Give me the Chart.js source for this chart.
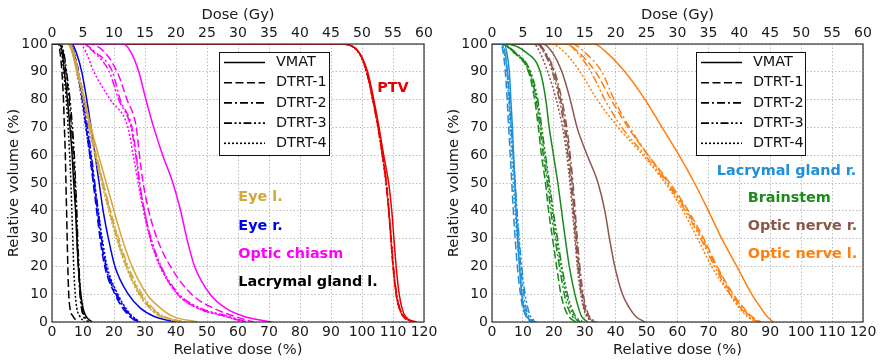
<!DOCTYPE html>
<html>
<head>
<meta charset="utf-8">
<script src="https://cdn.jsdelivr.net/npm/chart.js@4.4.1/dist/chart.umd.min.js"></script>
<style>
  html, body { margin: 0; padding: 0; background: #fff; }
  #wrap { position: relative; width: 881px; height: 360px; }
  canvas { position: absolute; top: 0; }
  #leftChart { left: 0; }
  #rightChart { left: 440px; }
</style>
</head>
<body>
<div id="wrap">
  <canvas id="leftChart" width="440" height="360"></canvas>
  <canvas id="rightChart" width="441" height="360"></canvas>
</div>
<script>
const volumeLevels = [100, 97, 90, 80, 70, 60, 50, 40, 30, 20, 10, 5, 2, 0];
const planNames = ['VMAT', 'DTRT-1', 'DTRT-2', 'DTRT-3', 'DTRT-4'];

// left panel, rows = VMAT, DTRT-1 .. DTRT-4
const lacrymalLDose = [
  [2.5, 3.3, 4.0, 5.0, 5.8, 6.5, 7.0, 7.6, 8.0, 8.5, 9.3, 10.0, 11.0, 13.0],
  [2.0, 2.6, 3.2, 3.7, 4.0, 4.3, 4.5, 4.7, 4.9, 5.1, 5.4, 5.8, 6.8, 8.5],
  [2.8, 3.6, 4.5, 5.5, 6.3, 6.9, 7.4, 7.8, 8.1, 8.5, 9.0, 9.5, 10.2, 11.5],
  [2.8, 3.8, 4.7, 5.8, 6.6, 7.2, 7.6, 8.0, 8.3, 8.7, 9.2, 9.7, 10.5, 12.0],
  [2.4, 3.1, 3.8, 4.6, 5.2, 5.7, 6.1, 6.4, 6.7, 7.0, 7.5, 8.0, 9.0, 10.5]
];
const eyeRDose = [
  [6.5, 7.8, 9.6, 11.2, 12.6, 13.9, 15.2, 16.5, 18.2, 20.3, 24.6, 28.5, 33, 40],
  [5.5, 6.8, 8.2, 9.8, 11.0, 12.2, 13.3, 14.4, 15.5, 17.0, 20.3, 22.8, 25, 27.5],
  [5.5, 7.0, 8.4, 10.0, 11.3, 12.5, 13.6, 14.7, 15.8, 17.3, 20.6, 23.2, 25.5, 28],
  [5.8, 7.2, 8.6, 10.2, 11.5, 12.7, 13.8, 14.9, 16.0, 17.5, 21.0, 23.5, 25.8, 28],
  [5.3, 6.6, 8.0, 9.6, 10.9, 12.2, 13.5, 14.9, 16.2, 17.8, 21.2, 23.8, 26, 28.5]
];
const eyeLDose = [
  [5.0, 6.5, 8.0, 10.5, 12.6, 15.0, 17.5, 20.0, 22.6, 25.8, 30.6, 35, 39, 47],
  [5.5, 7.0, 8.5, 10.5, 12.3, 14.3, 16.5, 18.8, 21.2, 24.2, 28.5, 32, 36, 43],
  [5.5, 6.8, 8.3, 10.3, 12.0, 14.0, 16.2, 18.5, 21.0, 24.0, 28.2, 31.5, 35, 42],
  [5.8, 7.0, 8.5, 10.5, 12.3, 14.3, 16.5, 18.8, 21.5, 24.6, 29.0, 32.5, 36, 43],
  [5.3, 6.5, 8.0, 10.0, 11.8, 13.8, 16.0, 18.3, 20.8, 23.8, 28.0, 31.5, 35, 42]
];
const chiasmDose = [
  [23, 25.5, 28, 30.3, 32.8, 35.7, 39, 41.5, 43.5, 46, 51, 56, 62, 71],
  [12, 17, 21.0, 24.2, 27.2, 28.2, 29.4, 31.2, 33.9, 38.2, 45, 52, 59, 65],
  [10, 14, 19.5, 22.0, 25.8, 27.2, 28.3, 29.8, 31.8, 35.0, 40.5, 47, 56, 62],
  [10, 13.5, 18.5, 21.5, 25.5, 27.0, 28.2, 29.8, 32.0, 35.2, 41, 48, 57, 63],
  [9, 11, 13.5, 18.8, 24.5, 26.2, 27.8, 29.5, 31.6, 34.8, 40.5, 47, 56, 62]
];
const ptvDose = [
  [93, 99, 101.8, 103.8, 105.5, 107.0, 108.6, 109.6, 110.3, 111.0, 112.0, 112.9, 114.0, 117.5],
  [93, 99, 101.5, 103.5, 105.2, 106.6, 107.8, 108.6, 109.3, 110.0, 111.0, 112.0, 113.3, 116.5],
  [93, 99, 101.6, 103.6, 105.3, 106.7, 107.9, 108.7, 109.4, 110.1, 111.1, 112.1, 113.5, 116.5],
  [93, 99, 101.5, 103.5, 105.2, 106.6, 107.8, 108.7, 109.4, 110.1, 111.2, 112.2, 113.5, 116.5],
  [93, 98.8, 101.4, 103.4, 105.1, 106.5, 107.7, 108.6, 109.3, 110.0, 111.0, 112.0, 113.3, 116.5]
];

// right panel
const lacrymalRDose = [
  [3.8, 4.8, 5.6, 6.1, 6.6, 7.0, 7.4, 7.8, 8.3, 8.9, 9.6, 10.3, 11.2, 13.5],
  [2.8, 3.6, 4.3, 4.9, 5.4, 5.9, 6.4, 6.9, 7.5, 8.2, 9.2, 10.0, 11.0, 12.5],
  [3.2, 4.2, 5.0, 5.6, 6.2, 6.8, 7.4, 8.0, 8.6, 9.3, 10.3, 11.0, 12.0, 14.0],
  [3.2, 4.2, 5.0, 5.7, 6.3, 6.9, 7.5, 8.1, 8.8, 9.6, 10.7, 11.6, 12.5, 14.5],
  [3.0, 4.0, 4.8, 5.4, 5.9, 6.4, 6.9, 7.5, 8.1, 8.9, 9.8, 10.6, 11.6, 13.5]
];
const brainstemDose = [
  [4, 11.0, 15.6, 17.4, 18.5, 19.9, 21.3, 22.5, 23.7, 25.0, 26.8, 28.0, 29.0, 31],
  [3, 7.0, 11.8, 13.8, 15.0, 16.0, 17.3, 18.3, 19.6, 20.9, 22.3, 23.5, 24.8, 27],
  [3, 7.3, 12.2, 14.3, 15.5, 16.6, 17.9, 19.0, 20.4, 21.8, 23.4, 24.6, 26, 28.5],
  [3, 7.5, 12.5, 14.8, 16.1, 17.3, 18.6, 19.8, 21.2, 22.6, 24.4, 25.8, 27, 29.5],
  [3, 7.0, 12.0, 14.5, 15.8, 17.0, 18.3, 19.5, 20.8, 22.3, 24.0, 25.3, 26.5, 29]
];
const opticNerveRDose = [
  [16.5, 19.5, 22.6, 25.3, 27.5, 30.8, 34.3, 36.5, 38.0, 39.7, 42.2, 44.5, 46.5, 49.5],
  [14.5, 17.0, 20.0, 22.2, 23.8, 25.0, 25.9, 26.6, 27.3, 28.1, 29.2, 30.2, 31.2, 33.5],
  [15.0, 17.3, 20.3, 22.6, 24.2, 25.3, 26.2, 26.9, 27.6, 28.4, 29.5, 30.5, 31.5, 34],
  [14.5, 16.8, 19.5, 21.8, 23.4, 24.6, 25.5, 26.3, 27.0, 27.8, 28.9, 29.8, 30.8, 33],
  [13.5, 15.5, 18.0, 20.8, 22.8, 24.2, 25.2, 26.0, 26.8, 27.6, 28.7, 29.6, 30.6, 33]
];
const opticNerveLDose = [
  [33, 37, 43, 49.5, 55, 60.5, 65.5, 70, 74.3, 79.2, 84, 87, 89, 91],
  [24, 28, 33.5, 38.5, 44, 50.5, 57.5, 63.5, 68.5, 72.8, 78, 81.5, 84, 87],
  [26, 30, 35.5, 39.5, 44.5, 50.5, 57, 63, 68, 72.5, 77.5, 81, 83.5, 86.5],
  [24, 27.5, 32, 36.5, 42, 49.5, 56.5, 62.5, 67.5, 72, 77, 80.5, 83, 86],
  [19, 23.5, 28.5, 34, 40.8, 48.8, 56, 61.8, 66.5, 71, 76.8, 80, 82.5, 85.5]
];

const dashStyles = [[], [8, 3.5], [8, 3, 2, 3], [8, 2.5, 2, 2.5, 2, 2.5], [2, 2]];
const FONT = '"DejaVu Sans", sans-serif';
Chart.defaults.font.family = FONT;
Chart.defaults.color = '#1a1a1a';

function makeDatasets(structures) {
  const sets = [];
  structures.forEach((s) => {
    s.doses.forEach((row, i) => {
      const pts = [{x: 0, y: 100}].concat(row.map((d, k) => ({x: d, y: volumeLevels[k]})));
      sets.push({
        data: pts,
        borderColor: s.color,
        borderWidth: 1.5,
        borderDash: dashStyles[i],
        pointRadius: 0,
        cubicInterpolationMode: 'monotone',
        fill: false
      });
    });
  });
  return sets;
}

// frame, structure names and the plan legend
const panelDecor = {
  id: 'panelDecor',
  afterDatasetsDraw(chart, args, opts) {
    const {ctx, chartArea: a, scales} = chart;
    ctx.save();
    ctx.setLineDash([]);
    ctx.strokeStyle = '#333';
    ctx.lineWidth = 1.2;
    ctx.strokeRect(a.left, a.top, a.right - a.left, a.bottom - a.top);

    ctx.font = 'bold 14.4px ' + FONT;
    ctx.textBaseline = 'middle';
    ctx.textAlign = 'left';
    opts.labels.forEach((l) => {
      ctx.fillStyle = l.color;
      ctx.fillText(l.text, scales.x.getPixelForValue(l.x), scales.y.getPixelForValue(l.y));
    });

    const lg = opts.legend;
    ctx.fillStyle = '#fff';
    ctx.fillRect(lg.left, lg.top, lg.width, lg.height);
    ctx.strokeStyle = '#111';
    ctx.lineWidth = 1;
    ctx.strokeRect(lg.left + 0.5, lg.top + 0.5, lg.width, lg.height);
    ctx.font = '14.4px ' + FONT;
    planNames.forEach((name, i) => {
      const y = lg.top + 10.5 + i * 20.2;
      ctx.strokeStyle = '#000';
      ctx.lineWidth = 1.6;
      ctx.setLineDash(dashStyles[i]);
      ctx.beginPath();
      ctx.moveTo(lg.left + 5, y);
      ctx.lineTo(lg.left + 46, y);
      ctx.stroke();
      ctx.setLineDash([]);
      ctx.fillStyle = '#111';
      ctx.fillText(name, lg.left + 57, y);
    });
    ctx.restore();
  }
};

function makeChart(canvasId, structures, labels, legend, padRight) {
  return new Chart(document.getElementById(canvasId), {
    type: 'line',
    data: { datasets: makeDatasets(structures) },
    plugins: [panelDecor],
    options: {
      responsive: false,
      animation: false,
      layout: { padding: { left: 0, right: padRight, top: 0, bottom: 0 } },
      plugins: {
        legend: { display: false },
        tooltip: { enabled: false },
        panelDecor: { labels: labels, legend: legend }
      },
      scales: {
        x: {
          type: 'linear', position: 'bottom', min: 0, max: 120,
          ticks: { stepSize: 10, padding: 2, font: { size: 14 }, maxRotation: 0 },
          grid: { color: '#b5b5b5', lineWidth: 0.9, drawTicks: false },
          border: { display: false, dash: [1.5, 2] },
          title: { display: true, text: 'Relative dose (%)', font: { size: 14.7 }, padding: { top: 0, bottom: 1 } },
          afterFit: (s) => { s.height = 38; }
        },
        x2: {
          type: 'linear', position: 'top', min: 0, max: 60,
          ticks: { stepSize: 5, padding: 2, font: { size: 14 }, maxRotation: 0 },
          grid: { display: false, drawTicks: false },
          border: { display: false },
          title: { display: true, text: 'Dose (Gy)', font: { size: 14.7 }, padding: { top: 6, bottom: 0 } },
          afterFit: (s) => { s.height = 44; }
        },
        y: {
          type: 'linear', min: 0, max: 100,
          ticks: { stepSize: 10, padding: 4, font: { size: 14 } },
          grid: { color: '#b5b5b5', lineWidth: 0.9, drawTicks: false },
          border: { display: false, dash: [1.5, 2] },
          title: { display: true, text: 'Relative volume (%)', font: { size: 14.7 }, padding: { top: 5, bottom: 0 } },
          afterFit: (s) => { s.width = 52; }
        }
      }
    }
  });
}

makeChart('leftChart', [
  { doses: lacrymalLDose, color: '#000000' },
  { doses: eyeLDose, color: '#d2a73c' },
  { doses: eyeRDose, color: '#0000f0' },
  { doses: chiasmDose, color: '#ff00ff' },
  { doses: ptvDose, color: '#e80000' }
], [
  { text: 'PTV', x: 104.9, y: 84, color: '#e80000' },
  { text: 'Eye l.', x: 60.1, y: 44.8, color: '#d2a73c' },
  { text: 'Eye r.', x: 60.1, y: 34.4, color: '#0000f0' },
  { text: 'Optic chiasm', x: 60.1, y: 24.3, color: '#ff00ff' },
  { text: 'Lacrymal gland l.', x: 60.1, y: 14.3, color: '#000000' }
], { left: 219, top: 52, width: 110, height: 103 }, 16);

makeChart('rightChart', [
  { doses: lacrymalRDose, color: '#1f8fd8' },
  { doses: brainstemDose, color: '#1a8a1a' },
  { doses: opticNerveRDose, color: '#8c564b' },
  { doses: opticNerveLDose, color: '#ff7f0e' }
], [
  { text: 'Lacrymal gland r.', x: 72.7, y: 54.2, color: '#1f8fd8' },
  { text: 'Brainstem', x: 82.7, y: 44.5, color: '#1a8a1a' },
  { text: 'Optic nerve r.', x: 82.7, y: 34.4, color: '#8c564b' },
  { text: 'Optic nerve l.', x: 82.7, y: 24.3, color: '#ff7f0e' }
], { left: 256, top: 52, width: 109, height: 103 }, 18);
</script>
</body>
</html>
